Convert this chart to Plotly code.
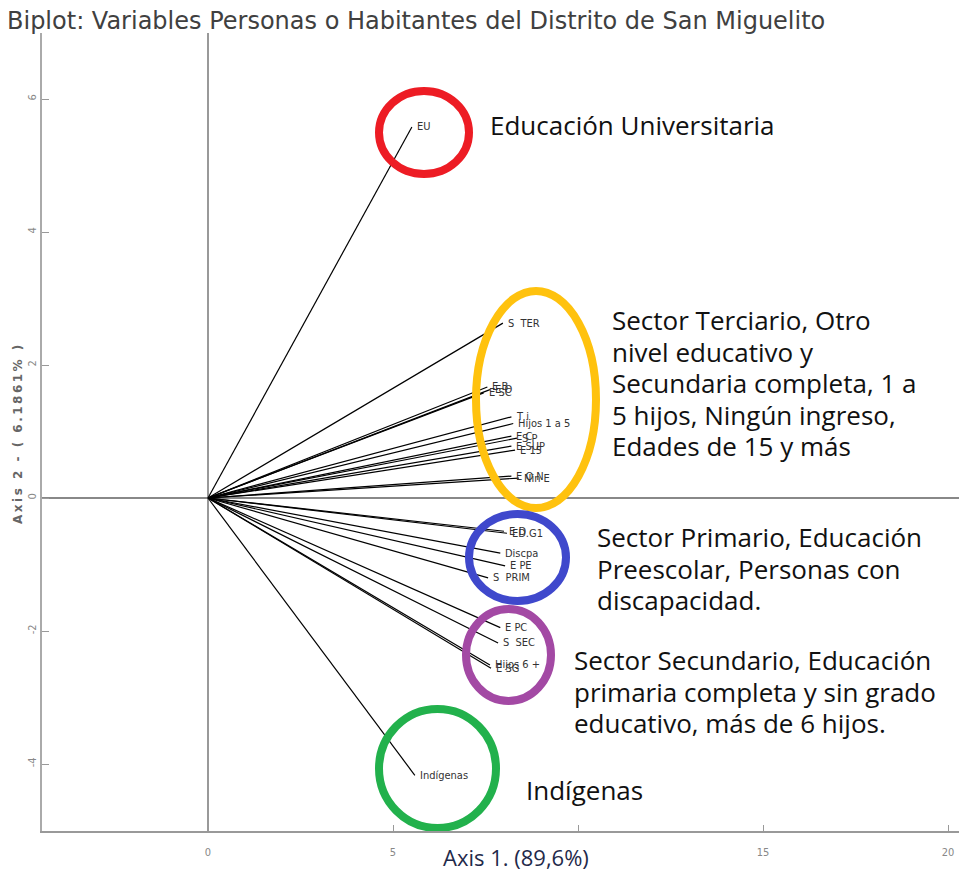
import plotly.graph_objects as go

# ---------------- data ----------------
var_names = ["EU", "S  TER", "E B", "E O", "E SC", "T i", "Hijos 1 a 5", "E C", "S P",
             "E SUP", "E 15", "E O N", "Nin E", "ED.G1", "E D", "Discpa", "E PE",
             "S  PRIM", "E PC", "S  SEC", "Hijos 6 +", "E SG", "Indígenas"]
axis1 = [5.51, 7.97, 7.55, 7.62, 7.45, 8.20, 8.25, 8.20, 8.35,
         8.20, 8.30, 8.20, 8.40, 8.08, 8.00, 7.90, 8.03,
         7.57, 7.90, 7.84, 7.62, 7.65, 5.59]
axis2 = [5.58, 2.63, 1.67, 1.63, 1.58, 1.22, 1.12, 0.93, 0.90,
         0.78, 0.72, 0.33, 0.30, -0.53, -0.50, -0.83, -1.02,
         -1.20, -1.95, -2.18, -2.51, -2.56, -4.17]

x_tick_vals = [0, 5, 10, 15, 20]
x_tick_text = ["0", "5", "", "15", "20"]
y_tick_vals = [-4, -2, 0, 2, 4, 6]
y_tick_text = ["-4", "-2", "0", "2", "4", "6"]

title_text = "Biplot: Variables Personas o Habitantes del Distrito de San Miguelito"
x_title = "Axis 1. (89,6%)"
y_title = "Axis 2 - ( 6.1861% )"

group_text = {
    "eu": ["Educación Universitaria"],
    "ter": ["Sector Terciario, Otro", "nivel educativo y", "Secundaria completa, 1 a",
            "5 hijos, Ningún ingreso,", "Edades de 15 y más"],
    "pri": ["Sector Primario, Educación", "Preescolar, Personas con", "discapacidad."],
    "sec": ["Sector Secundario, Educación", "primaria completa y sin grado",
            "educativo, más de 6 hijos."],
    "ind": ["Indígenas"],
}

# ---------------- layout helpers (page-pixel geometry) ----------------
OFF = 8                      # body margin of the html page
W, H = 967 - 2 * OFF, 878 - 2 * OFF
X0PX, Y0PX = 208.0, 498.0    # page pixel of origin
SX, SY = 37.0, 66.5          # pixels per unit
PL, PR, PT, PB = 42, OFF + W, 33, 831   # plot area in page pixels


def px2x(px):
    return (px - X0PX) / SX


def py2y(py):
    return (Y0PX - py) / SY


def px2paper(px):
    return (px - PL) / (PR - PL)


def py2paper(py):
    return (PB - py) / (PB - PT)


xr = [px2x(PL), px2x(PR)]
yr = [py2y(PB), py2y(PT)]

fig = go.Figure()

# vectors from origin
lx, ly = [], []
for a, b in zip(axis1, axis2):
    lx += [0, a, None]
    ly += [0, b, None]
fig.add_trace(go.Scatter(x=lx, y=ly, mode="lines",
                         line=dict(color="black", width=1.2),
                         hoverinfo="skip", showlegend=False))

annotations = []
label_font = dict(family="Liberation Sans Narrow, DejaVu Sans Condensed, Arial Narrow, sans-serif",
                  size=11, color="#333333")
for n, a, b in zip(var_names, axis1, axis2):
    annotations.append(dict(x=a, y=b, text=n, showarrow=False, xanchor="left",
                            yanchor="middle", xshift=3, font=label_font))

# ellipses (page-pixel boxes, stroke centre)
ellipses = [
    ((379, 91, 469, 174), "#ED1C24"),
    ((476, 291, 596, 508), "#FFC20E"),
    ((469, 514, 566, 601), "#3F48CC"),
    ((466, 609, 551, 701), "#A349A4"),
    ((379, 709, 496, 828), "#22B14C"),
]
shapes = []
for (x1, y1, x2, y2), c in ellipses:
    shapes.append(dict(type="circle", xref="x", yref="y",
                       x0=px2x(x1), x1=px2x(x2), y0=py2y(y2), y1=py2y(y1),
                       line=dict(color=c, width=8), layer="above"))

big_font = dict(family="Open Sans, sans-serif", size=26, color="#111111")
text_pos = {
    "eu": (488, [125]),
    "ter": (610, [320, 352, 383, 415, 446]),
    "pri": (595, [537, 569, 600]),
    "sec": (572, [660, 692, 723]),
    "ind": (524, [790]),
}
for key, lines in group_text.items():
    px, pys = text_pos[key]
    for t, py in zip(lines, pys):
        annotations.append(dict(x=px2x(px), y=py2y(py), text=t, showarrow=False,
                                xanchor="left", yanchor="middle", font=big_font))

# axis titles
annotations.append(dict(xref="paper", yref="paper",
                        x=px2paper(516), y=py2paper(857),
                        text=x_title, showarrow=False, xanchor="center", yanchor="middle",
                        font=dict(family="Open Sans, sans-serif", size=22, color="#1F2A4A")))
annotations.append(dict(xref="paper", yref="paper",
                        x=px2paper(18), y=py2paper(433),
                        text='<span style="letter-spacing:2.5px">' + y_title + "</span>",
                        showarrow=False, textangle=-90,
                        xanchor="center", yanchor="middle",
                        font=dict(family="DejaVu Sans, Liberation Sans, sans-serif", size=12,
                                  color="#666666", weight="bold")))
# chart title
annotations.append(dict(xref="paper", yref="paper",
                        x=px2paper(5), y=py2paper(21),
                        text=title_text, showarrow=False, xanchor="left", yanchor="middle",
                        font=dict(family="DejaVu Sans, sans-serif", size=24, color="#404040")))

fig.update_layout(
    width=W, height=H,
    margin=dict(l=PL - OFF, r=OFF + W - PR, t=PT - OFF, b=OFF + H - PB, autoexpand=False),
    paper_bgcolor="white", plot_bgcolor="white",
    shapes=shapes, annotations=annotations, showlegend=False,
)

fig.update_xaxes(range=xr, tickvals=x_tick_vals, ticktext=x_tick_text,
                 showgrid=False, zeroline=True, zerolinecolor="#999999", zerolinewidth=1.5,
                 showline=True, linecolor="#999999", linewidth=2,
                 ticks="inside", ticklen=6, tickcolor="#999999", ticklabelstandoff=10,
                 tickfont=dict(family="Liberation Sans Narrow, DejaVu Sans Condensed, sans-serif",
                               size=11, color="#888888"))
fig.update_yaxes(range=yr, tickvals=y_tick_vals, ticktext=y_tick_text,
                 showgrid=False, zeroline=True, zerolinecolor="#888888", zerolinewidth=2,
                 showline=True, linecolor="#aaaaaa", linewidth=2,
                 ticks="inside", ticklen=7, tickcolor="#999999", tickangle=-90,
                 tickfont=dict(family="Liberation Sans Narrow, DejaVu Sans Condensed, sans-serif",
                               size=11, color="#888888"))

fig.write_html("out.html")
